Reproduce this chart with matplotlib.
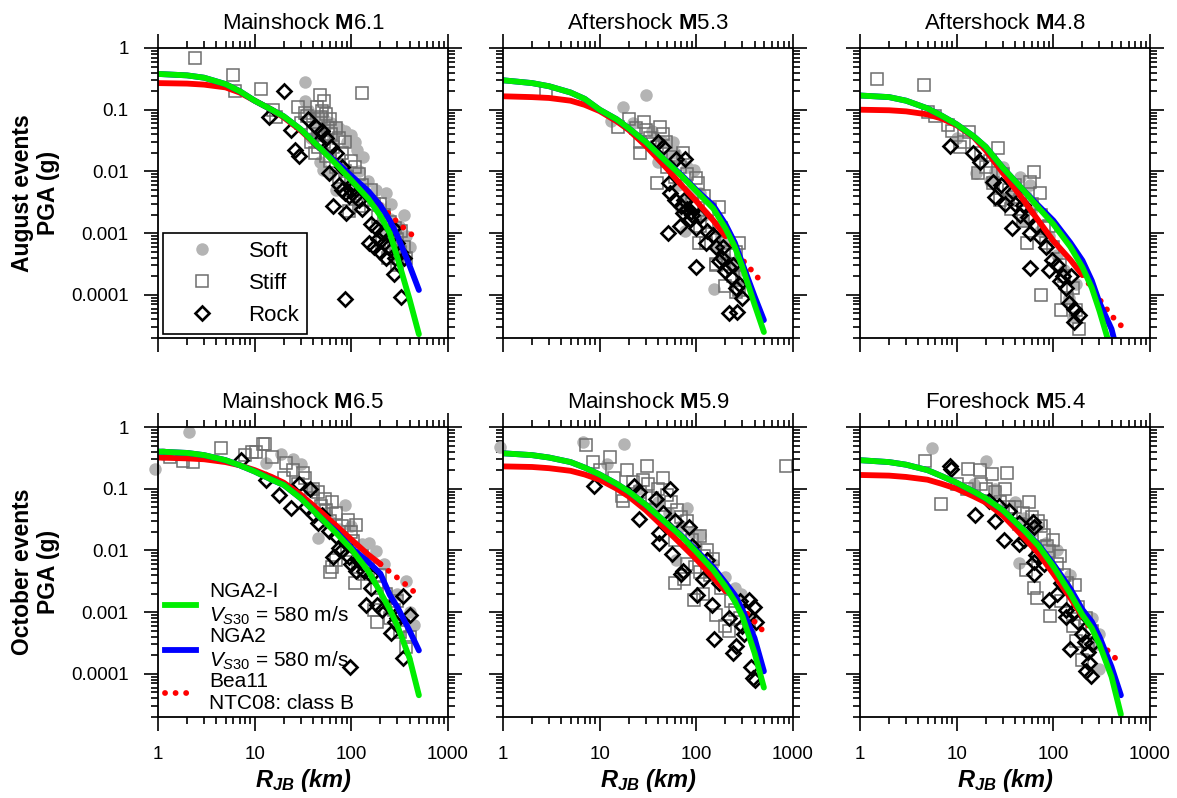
import matplotlib
matplotlib.use("Agg")
import matplotlib.pyplot as plt
from matplotlib.lines import Line2D
from matplotlib.ticker import LogLocator, FuncFormatter, NullFormatter

plt.rcParams['font.family'] = ['Liberation Sans', 'DejaVu Sans']
plt.rcParams['mathtext.fontset'] = 'custom'
plt.rcParams['mathtext.rm'] = 'Liberation Sans'
plt.rcParams['mathtext.it'] = 'Liberation Sans:italic'
plt.rcParams['mathtext.bf'] = 'Liberation Sans:bold'
plt.rcParams['mathtext.bfit'] = 'Liberation Sans:bold:italic'

# distance grid (km) for the GMPE curves
R_GRID = [1, 2, 3, 5, 7, 10, 15, 20, 30, 50, 70, 100, 150, 200, 250, 300, 400, 500]
BEA11_RMAX = 200  # Bea11 drawn solid up to here, dotted beyond

# ---- August, Mainshock M6.1
aug61_nga2i = [0.38, 0.36, 0.33, 0.26, 0.2, 0.14, 0.1, 0.078, 0.048, 0.022, 0.013, 0.0072, 0.0036, 0.0019, 0.001, 0.0004, 8.5e-5, 2.3e-5]
aug61_nga2 = [0.38, 0.36, 0.33, 0.26, 0.2, 0.14, 0.1, 0.078, 0.048, 0.022, 0.014, 0.0085, 0.0048, 0.0028, 0.0016, 0.0009, 0.0003, 0.00012]
aug61_bea11 = [0.27, 0.265, 0.255, 0.23, 0.19, 0.14, 0.1, 0.075, 0.046, 0.022, 0.014, 0.0082, 0.0045, 0.0028, 0.002, 0.0015, 0.001, 0.0008]
aug61_soft = [(33, 0.28), (33, 0.14), (36, 0.1), (42, 0.075), (55, 0.065), (62, 0.06), (75, 0.05), (99, 0.039),
              (90, 0.03), (131, 0.017), (115, 0.022), (51, 0.0105), (47, 0.014), (60, 0.009), (80, 0.012), (100, 0.008),
              (150, 0.007), (195, 0.0027), (228, 0.0044), (250, 0.0017), (313, 0.0013), (290, 0.0009), (370, 0.0009),
              (280, 0.0005), (330, 0.0004), (70, 0.005), (45, 0.05), (38, 0.035), (50, 0.08), (85, 0.045),
              (110, 0.03), (65, 0.035), (120, 0.01), (180, 0.005), (260, 0.003), (350, 0.002), (400, 0.0006),
              (220, 0.0012)]
aug61_stiff = [(2.4, 0.68), (5.9, 0.36), (6.2, 0.2), (11.5, 0.22), (15.5, 0.1), (16.7, 0.075), (129, 0.19), (47, 0.17),
               (44, 0.11), (50, 0.095), (55, 0.085), (35, 0.08), (30, 0.06), (40, 0.05), (45, 0.04), (60, 0.07), (70, 0.05),
               (75, 0.035), (38, 0.03), (42, 0.02), (65, 0.025), (80, 0.02), (100, 0.015), (110, 0.012), (90, 0.008),
               (130, 0.006), (160, 0.005), (140, 0.0035), (120, 0.0028), (95, 0.0023), (200, 0.003), (220, 0.002),
               (250, 0.0015), (280, 0.0012), (300, 0.0008), (260, 0.0006), (320, 0.0005), (350, 0.0006), (240, 0.0004),
               (300, 0.0003), (60, 0.015), (75, 0.008), (28, 0.11), (52, 0.14), (33, 0.09), (48, 0.075), (58, 0.05),
               (52, 0.03), (62, 0.04), (85, 0.03), (45, 0.025), (55, 0.018), (70, 0.012), (85, 0.01), (120, 0.009),
               (100, 0.005), (170, 0.003), (190, 0.0018), (230, 0.0011), (270, 0.0009), (330, 0.0011), (210, 0.0007),
               (290, 0.0005), (370, 0.0004)]
aug61_rock = [(20, 0.2), (14, 0.075), (24, 0.047), (26, 0.022), (29, 0.018), (36, 0.07), (43, 0.053), (50, 0.045),
              (55, 0.035), (62, 0.025), (70, 0.02), (59, 0.0093), (75, 0.006), (80, 0.005), (85, 0.0045), (95, 0.004),
              (100, 0.005), (110, 0.004), (64, 0.0028), (88, 0.0021), (120, 0.0035), (160, 0.0014), (154, 0.0007),
              (170, 0.0006), (190, 0.0008), (200, 0.0005), (220, 0.0007), (240, 0.0006), (260, 0.0009), (300, 0.0007),
              (320, 0.0005), (280, 0.0004), (277, 0.00022), (325, 9.3e-5), (87, 8.7e-5), (210, 0.001), (130, 0.0025),
              (45, 0.03), (80, 0.012), (105, 0.0065), (180, 0.0012), (230, 0.0004), (350, 0.0004), (270, 0.0012)]

# ---- August, Aftershock M5.3
aug53_nga2i = [0.30, 0.27, 0.24, 0.19, 0.15, 0.1, 0.07, 0.05, 0.03, 0.014, 0.0085, 0.0048, 0.0025, 0.0012, 0.0006, 0.00028, 7e-5, 2.5e-5]
aug53_nga2 = [0.30, 0.27, 0.24, 0.19, 0.15, 0.1, 0.07, 0.05, 0.03, 0.014, 0.0088, 0.005, 0.0028, 0.0014, 0.0007, 0.00032, 9.5e-5, 3.9e-5]
aug53_bea11 = [0.165, 0.16, 0.155, 0.14, 0.12, 0.095, 0.065, 0.047, 0.026, 0.011, 0.006, 0.0033, 0.0016, 0.0009, 0.0006, 0.00037, 0.00022, 0.000145]
aug53_soft = [(30, 0.17), (17.5, 0.11), (13, 0.065), (57, 0.03), (45, 0.03), (60, 0.02), (95, 0.0105), (80, 0.012),
              (40, 0.014), (73, 0.0034), (85, 0.005), (77, 0.0011), (70, 0.0025), (153, 0.000125), (200, 0.0004),
              (220, 0.0007), (160, 0.0006), (110, 0.0045), (250, 0.0003), (22, 0.06), (35, 0.045), (50, 0.018),
              (65, 0.006), (120, 0.002), (180, 0.0009), (280, 0.00025)]
aug53_stiff = [(2.8, 0.2), (15.5, 0.053), (28.8, 0.064), (30, 0.047), (42, 0.053), (26, 0.02), (39, 0.025), (39, 0.0066),
               (68, 0.012), (100, 0.0078), (170, 0.0027), (107, 0.0007), (108, 0.0013), (278, 0.0007), (160, 0.00032),
               (200, 0.00014), (255, 0.00011), (73, 0.02), (36, 0.028), (57, 0.017), (26, 0.03), (103, 0.0064),
               (125, 0.0007), (203, 0.0007), (255, 0.0005), (160, 0.0003), (277, 0.00012), (255, 0.0003), (45, 0.04),
               (20, 0.07), (24, 0.05), (33, 0.035), (48, 0.03), (50, 0.012), (60, 0.008), (80, 0.009), (120, 0.004),
               (140, 0.0025), (90, 0.003), (180, 0.0012), (220, 0.0005), (240, 0.0002), (300, 0.0002), (130, 0.0015)]
aug53_rock = [(62, 0.016), (77, 0.016), (52, 0.0065), (53, 0.0044), (73, 0.0021), (85, 0.0017), (68, 0.0013),
              (100, 0.0012), (51, 0.00099), (125, 0.0007), (147, 0.00095), (100, 0.00028), (170, 0.00035),
              (200, 0.00024), (235, 0.00019), (255, 0.00013), (297, 9e-5), (217, 5.1e-5), (265, 5.3e-5),
              (186, 0.0004), (217, 0.00028), (275, 0.00015), (80, 0.0025), (88, 0.0022), (95, 0.0028), (70, 0.0028),
              (90, 0.002), (110, 0.0019), (40, 0.03), (45, 0.025), (190, 0.0006), (60, 0.0035), (75, 0.0035),
              (130, 0.0011), (160, 0.0006), (240, 0.0003)]

# ---- August, Aftershock M4.8
aug48_nga2i = [0.17, 0.16, 0.14, 0.105, 0.08, 0.058, 0.037, 0.025, 0.0115, 0.0048, 0.0026, 0.0014, 0.0006, 0.00028, 0.00013, 5.5e-5, 1.2e-5, 3e-6]
aug48_nga2 = [0.17, 0.16, 0.14, 0.105, 0.08, 0.058, 0.037, 0.025, 0.0115, 0.0048, 0.0028, 0.0016, 0.0007, 0.00036, 0.00017, 7.5e-5, 2.8e-5, 7e-6]
aug48_bea11 = [0.1, 0.098, 0.094, 0.084, 0.072, 0.056, 0.036, 0.022, 0.0095, 0.0033, 0.0016, 0.00075, 0.00037, 0.00021, 0.00013, 8.5e-5, 4.6e-5, 3.2e-5]
aug48_soft = [(16, 0.0093), (22, 0.007), (45, 0.008), (57, 0.006), (48, 0.0016), (158, 4.4e-5), (146, 9e-5),
              (52, 0.004), (72, 0.0011), (170, 0.00015), (30, 0.012), (90, 0.0009), (10, 0.035), (25, 0.01),
              (35, 0.004), (60, 0.0025), (110, 0.00045), (130, 0.00025)]
aug48_stiff = [(1.5, 0.32), (4.6, 0.25), (5.1, 0.093), (8.1, 0.056), (10.7, 0.025), (13.4, 0.044), (26.7, 0.024),
               (16.6, 0.0093), (23.7, 0.0064), (27.8, 0.0034), (63, 0.0099), (57, 0.0068), (72, 0.0044), (36.5, 0.0025),
               (48, 0.0016), (54, 0.0007), (84, 0.0007), (116, 0.0003), (74, 0.0001), (120, 5.6e-5), (185, 2.8e-5),
               (158, 0.00013), (170, 5.6e-5), (40, 0.006), (20, 0.012), (6, 0.08), (9, 0.045), (12, 0.03), (18, 0.02),
               (22, 0.015), (30, 0.009), (35, 0.005), (45, 0.0035), (60, 0.003), (75, 0.002), (90, 0.0013),
               (100, 0.0006), (130, 0.0002), (140, 9e-5), (80, 0.0012)]
aug48_rock = [(8.5, 0.026), (14.7, 0.02), (17.3, 0.014), (23.7, 0.0068), (25.2, 0.0039), (38, 0.0046), (48, 0.0029),
              (37.5, 0.0012), (57, 0.001), (72, 0.00087), (84, 0.0006), (57, 0.00027), (98, 0.00037), (91, 0.00025),
              (116, 0.00017), (135, 0.00013), (152, 0.0002), (146, 7.3e-5), (165, 6e-5), (185, 4.7e-5),
              (165, 3.6e-5), (29, 0.006), (45, 0.002), (66, 0.0013), (32, 0.003), (40, 0.003), (55, 0.0018),
              (110, 0.0003), (125, 0.0002)]

# ---- October, Mainshock M6.5
oct65_nga2i = [0.40, 0.38, 0.35, 0.29, 0.24, 0.19, 0.14, 0.115, 0.07, 0.032, 0.019, 0.0105, 0.0046, 0.0021, 0.0011, 0.0006, 0.00018, 4.5e-5]
oct65_nga2 = [0.40, 0.38, 0.35, 0.29, 0.24, 0.19, 0.14, 0.115, 0.07, 0.032, 0.02, 0.011, 0.0065, 0.0042, 0.0019, 0.0012, 0.0005, 0.00024]
oct65_bea11 = [0.32, 0.31, 0.30, 0.27, 0.24, 0.2, 0.155, 0.125, 0.08, 0.04, 0.025, 0.015, 0.0085, 0.006, 0.0045, 0.0036, 0.0025, 0.0018]
oct65_soft = [(0.93, 0.21), (2.1, 0.84), (1.13, 0.37), (18.8, 0.37), (13.2, 0.26), (85, 0.054), (45, 0.016),
              (74, 0.022), (153, 0.013), (180, 0.0098), (366, 0.0032), (446, 0.00063), (130, 0.0127), (60, 0.03),
              (30, 0.25), (40, 0.1), (55, 0.04), (100, 0.025), (220, 0.006), (300, 0.002), (400, 0.001), (25, 0.3)]
oct65_stiff = [(12.2, 0.54), (9.3, 0.4), (15.2, 0.33), (21, 0.26), (32, 0.18), (33, 0.15), (54, 0.069), (63, 0.06),
               (48, 0.052), (92, 0.031), (112, 0.026), (103, 0.014), (70, 0.0071), (63, 0.0054), (116, 0.0054),
               (136, 0.0041), (186, 0.0025), (276, 0.0011), (172, 0.0011), (186, 0.0007), (340, 0.0006), (370, 0.00027),
               (320, 0.00047), (1.33, 0.33), (1.8, 0.28), (2.3, 0.27), (4.5, 0.45), (10.4, 0.4), (12.7, 0.54),
               (40, 0.1), (70, 0.04), (25, 0.2), (20, 0.15), (28, 0.12), (38, 0.07), (45, 0.09), (55, 0.045),
               (60, 0.03), (80, 0.025), (100, 0.02), (90, 0.01), (130, 0.008), (150, 0.006), (200, 0.004),
               (230, 0.002), (300, 0.0015), (250, 0.0008), (400, 0.0004), (8, 0.35), (60, 0.0045), (110, 0.003)]
oct65_rock = [(7.3, 0.29), (13.2, 0.14), (18, 0.078), (23.8, 0.048), (29, 0.12), (37, 0.1), (34, 0.05), (41, 0.038),
              (50, 0.038), (59, 0.021), (70, 0.017), (88, 0.013), (64, 0.0079), (95, 0.0078), (117, 0.0071),
              (113, 0.0046), (136, 0.0046), (159, 0.0025), (141, 0.0013), (210, 0.0011), (186, 0.0013),
              (256, 0.00046), (346, 0.0018), (97, 0.00013), (346, 0.00018), (300, 0.0008), (80, 0.01),
              (45, 0.028), (75, 0.011), (100, 0.006), (160, 0.004), (250, 0.0012), (280, 0.0007), (400, 0.0009)]

# ---- October, Mainshock M5.9
oct59_nga2i = [0.375, 0.35, 0.32, 0.27, 0.22, 0.17, 0.12, 0.09, 0.055, 0.027, 0.017, 0.0095, 0.0048, 0.0026, 0.0015, 0.00085, 0.00022, 6e-5]
oct59_nga2 = [0.375, 0.35, 0.32, 0.27, 0.22, 0.17, 0.12, 0.09, 0.055, 0.027, 0.0175, 0.01, 0.0053, 0.003, 0.0019, 0.0011, 0.00038, 0.00011]
oct59_bea11 = [0.23, 0.225, 0.215, 0.195, 0.17, 0.14, 0.1, 0.075, 0.045, 0.021, 0.0125, 0.0072, 0.0036, 0.0022, 0.0016, 0.00115, 0.0007, 0.00048]
oct59_soft = [(0.93, 0.47), (6.7, 0.58), (17.8, 0.54), (81, 0.048), (288, 0.002), (62, 0.007), (52, 0.04),
              (200, 0.0037), (110, 0.018), (40, 0.06), (90, 0.02), (12, 0.25), (25, 0.1), (35, 0.05), (70, 0.025),
              (100, 0.012), (150, 0.006), (250, 0.0025), (380, 0.0008)]
oct59_stiff = [(7.3, 0.51), (12.7, 0.33), (8.5, 0.27), (31, 0.23), (45, 0.15), (19, 0.2), (17, 0.075), (17.5, 0.063),
               (28, 0.14), (31.7, 0.12), (63, 0.045), (70, 0.035), (110, 0.017), (150, 0.0073), (96, 0.0053),
               (75, 0.0035), (94, 0.0016), (116, 0.002), (160, 0.0009), (200, 0.0006), (220, 0.0005), (840, 0.23),
               (50, 0.08), (40, 0.1), (130, 0.01), (250, 0.0011), (10, 0.2), (14, 0.15), (22, 0.13), (26, 0.09),
               (35, 0.07), (55, 0.06), (45, 0.035), (80, 0.03), (90, 0.015), (60, 0.015), (120, 0.008), (80, 0.006),
               (140, 0.004), (180, 0.0025), (230, 0.0015), (280, 0.0008), (350, 0.0006), (60, 0.003), (110, 0.0045)]
oct59_rock = [(8.7, 0.11), (22.9, 0.11), (25.5, 0.087), (53.5, 0.1), (38, 0.068), (25.6, 0.032), (83, 0.024),
              (41, 0.019), (41, 0.013), (56, 0.0088), (72, 0.0047), (69, 0.0042), (101, 0.0019), (144, 0.0013),
              (116, 0.0035), (350, 0.0016), (395, 0.0012), (219, 0.0008), (153, 0.00037), (258, 0.00028),
              (240, 0.00022), (372, 0.00013), (386, 8.7e-5), (400, 8e-5), (310, 0.00045), (410, 0.0007), (60, 0.03),
              (45, 0.04), (90, 0.012), (130, 0.007), (170, 0.003), (280, 0.0015), (330, 0.001), (300, 0.0006)]

# ---- October, Foreshock M5.4
oct54_nga2i = [0.29, 0.27, 0.245, 0.2, 0.16, 0.125, 0.09, 0.07, 0.045, 0.021, 0.012, 0.0055, 0.002, 0.0009, 0.00055, 0.0003, 9e-5, 2.2e-5]
oct54_nga2 = [0.29, 0.27, 0.245, 0.2, 0.16, 0.125, 0.09, 0.07, 0.045, 0.021, 0.0125, 0.006, 0.0024, 0.0011, 0.0007, 0.0004, 0.00013, 4.5e-5]
oct54_bea11 = [0.167, 0.163, 0.155, 0.14, 0.12, 0.1, 0.075, 0.06, 0.037, 0.016, 0.009, 0.0042, 0.0017, 0.00085, 0.0005, 0.00035, 0.0002, 0.000155]
oct54_soft = [(5.5, 0.45), (20.3, 0.28), (44.6, 0.0062), (298, 0.00045), (298, 0.00012), (84, 0.013), (30, 0.049),
              (50, 0.033), (95, 0.0095), (60, 0.02), (15, 0.12), (25, 0.1), (40, 0.06), (70, 0.025), (110, 0.01),
              (150, 0.004), (250, 0.0008), (280, 0.0003)]
oct54_stiff = [(4.7, 0.28), (6.9, 0.056), (13.1, 0.21), (17.3, 0.2), (23.4, 0.17), (32.8, 0.18), (32, 0.1), (12.7, 0.098),
               (20, 0.1), (56, 0.06), (44, 0.027), (80, 0.018), (91, 0.0098), (116, 0.008), (52, 0.0048), (63, 0.0025),
               (67, 0.0017), (93, 0.00087), (166, 0.0028), (161, 0.00059), (171, 0.00034), (200, 0.00017),
               (40, 0.05), (70, 0.03), (130, 0.004), (10, 0.12), (18, 0.12), (25, 0.09), (28, 0.06), (35, 0.05),
               (48, 0.04), (60, 0.035), (75, 0.025), (85, 0.012), (100, 0.015), (110, 0.006), (70, 0.008),
               (140, 0.003), (120, 0.0015), (180, 0.0012), (220, 0.0008), (250, 0.0005), (230, 0.00025)]
oct54_rock = [(8.45, 0.23), (8.8, 0.21), (15.3, 0.037), (21.5, 0.063), (27.6, 0.052), (35, 0.044), (44, 0.028),
              (61, 0.029), (63, 0.024), (31, 0.015), (44.6, 0.0126), (66, 0.0084), (63, 0.0042), (90, 0.0016),
              (109, 0.002), (135, 0.0011), (135, 0.00084), (160, 0.001), (200, 0.00044), (212, 0.00033),
              (150, 0.00025), (236, 0.00015), (220, 0.00011), (243, 9.4e-5), (227, 0.00023), (63, 0.0066),
              (25, 0.03), (50, 0.015), (80, 0.006), (120, 0.003), (180, 0.0007), (250, 0.0003)]

PANELS = [
    ("Mainshock", "6.1", aug61_nga2i, aug61_nga2, aug61_bea11, aug61_soft, aug61_stiff, aug61_rock),
    ("Aftershock", "5.3", aug53_nga2i, aug53_nga2, aug53_bea11, aug53_soft, aug53_stiff, aug53_rock),
    ("Aftershock", "4.8", aug48_nga2i, aug48_nga2, aug48_bea11, aug48_soft, aug48_stiff, aug48_rock),
    ("Mainshock", "6.5", oct65_nga2i, oct65_nga2, oct65_bea11, oct65_soft, oct65_stiff, oct65_rock),
    ("Mainshock", "5.9", oct59_nga2i, oct59_nga2, oct59_bea11, oct59_soft, oct59_stiff, oct59_rock),
    ("Foreshock", "5.4", oct54_nga2i, oct54_nga2, oct54_bea11, oct54_soft, oct54_stiff, oct54_rock),
]
ROW_LABELS = ["August events\nPGA (g)", "October events\nPGA (g)"]

GREEN = '#00ee00'
BLUE = '#0000ff'
RED = '#ff0000'
SOFT_C = '#b4b4b4'
STIFF_C = '#6e6e6e'
LW = 4.2
DOTS = (0, (0.01, 1.8))

W, H = 1177, 798
fig = plt.figure(figsize=(W / 100, H / 100), dpi=100)

col_left = [158, 503, 860]
row_top = [48, 427]
aw, ah = 290, 290

fmt = FuncFormatter(lambda v, p: f'{v:g}')
soft_kw = dict(marker='o', ms=9, color=SOFT_C, mec='none')
stiff_kw = dict(marker='s', ms=8.8, mfc='none', mec=STIFF_C, mew=1.1)
rock_kw = dict(marker='D', ms=6.7, mfc='none', mec='black', mew=1.9)

for i, (kind, mag, g, b, r, soft, stiff, rock) in enumerate(PANELS):
    row, col = divmod(i, 3)
    ax = fig.add_axes([col_left[col] / W, (H - row_top[row] - ah) / H, aw / W, ah / H])
    ax.set_xscale('log')
    ax.set_yscale('log')

    for pts, kw in ((soft, soft_kw), (stiff, stiff_kw), (rock, rock_kw)):
        ax.plot([p[0] for p in pts], [p[1] for p in pts], ls='none', clip_on=False, **kw)

    k = R_GRID.index(BEA11_RMAX)
    ax.plot(R_GRID[:k + 1], r[:k + 1], color=RED, lw=LW, solid_capstyle='round')
    ax.plot(R_GRID[k:], r[k:], color=RED, lw=LW, ls=DOTS, dash_capstyle='round')
    ax.plot(R_GRID, b, color=BLUE, lw=LW, solid_capstyle='round')
    ax.plot(R_GRID, g, color=GREEN, lw=LW, solid_capstyle='round')

    ax.set_xlim(1, 1000)
    ax.set_ylim(2e-5, 1)
    ax.xaxis.set_major_locator(LogLocator(base=10, numticks=10))
    ax.xaxis.set_minor_locator(LogLocator(base=10, subs=range(2, 10), numticks=10))
    ax.yaxis.set_major_locator(LogLocator(base=10, numticks=12))
    ax.yaxis.set_minor_locator(LogLocator(base=10, subs=range(2, 10), numticks=12))
    ax.tick_params(which='both', direction='out', top=True, right=True, width=1.2, labelsize=13.5, pad=11)
    ax.tick_params(which='major', length=10)
    ax.tick_params(which='minor', length=5)
    for sp in ax.spines.values():
        sp.set_linewidth(1.3)
    ax.xaxis.set_major_formatter(fmt if row == 1 else NullFormatter())
    ax.yaxis.set_major_formatter(fmt if col == 0 else NullFormatter())
    ax.xaxis.set_minor_formatter(NullFormatter())
    ax.yaxis.set_minor_formatter(NullFormatter())

    ax.set_title(f"{kind} $\\mathbf{{M}}${mag}", fontsize=16, pad=14)
    if col == 0:
        ax.set_ylabel(ROW_LABELS[row], fontsize=16.5, fontweight='bold', labelpad=8, linespacing=1.15)
    if row == 1:
        ax.set_xlabel(r"$\mathbfit{R}_{\mathbfit{JB}}$ (km)", fontsize=17, fontweight='bold',
                      fontstyle='italic', labelpad=3)

    if i == 0:
        hs = [Line2D([], [], ls='none', **soft_kw),
              Line2D([], [], ls='none', **stiff_kw),
              Line2D([], [], ls='none', **rock_kw)]
        leg = ax.legend(hs, ['Soft', 'Stiff', 'Rock'], loc='lower left', bbox_to_anchor=(0.017, 0.014),
                        borderaxespad=0, fontsize=16, frameon=True, fancybox=False, edgecolor='black',
                        handlelength=2.8, handletextpad=0.7, labelspacing=0.5, borderpad=0.35)
        leg.get_frame().set_linewidth(1.2)
        leg.get_frame().set_alpha(1)
    if i == 3:
        hs = [Line2D([], [], color=GREEN, lw=LW),
              Line2D([], [], color=BLUE, lw=LW),
              Line2D([], [], color=RED, lw=LW, ls=DOTS, dash_capstyle='round')]
        labels = ["NGA2-I\n$V_{S30}$ = 580 m/s", "NGA2\n$V_{S30}$ = 580 m/s", "Bea11\nNTC08: class B"]
        ax.legend(hs, labels, loc='lower left', bbox_to_anchor=(0.01, 0.0), borderaxespad=0, fontsize=15,
                  frameon=False, handlelength=1.5, handletextpad=0.6, labelspacing=0.0, borderpad=0.2)

fig.savefig('out.png', dpi=100)
